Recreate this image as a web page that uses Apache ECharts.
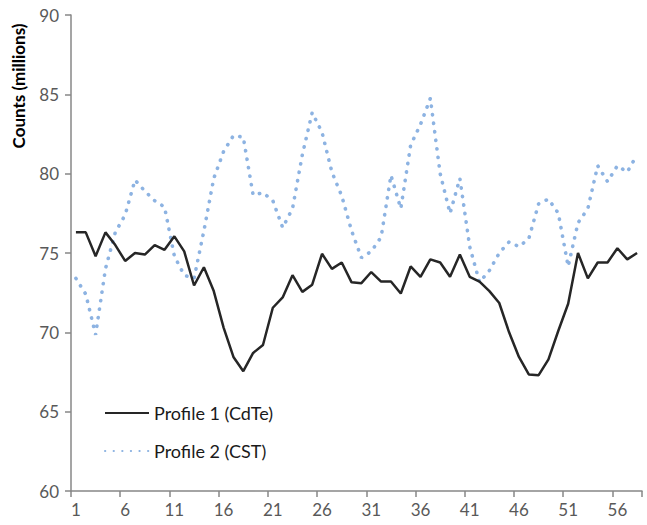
<!DOCTYPE html>
<html>
<head>
<meta charset="utf-8">
<script src="https://cdn.jsdelivr.net/npm/echarts@6/dist/echarts.min.js"></script>
<style>
html,body{margin:0;padding:0;background:#fff;}
#chart{width:647px;height:525px;}
</style>
</head>
<body>
<div id="chart"></div>
<script>
var categories = ['1','2','3','4','5','6','7','8','9','10','11','12','13','14','15','16','17','18','19','20',
  '21','22','23','24','25','26','27','28','29','30','31','32','33','34','35','36','37','38','39','40',
  '41','42','43','44','45','46','47','48','49','50','51','52','53','54','55','56','57','58'];

var profile1 = [76.3,76.3,74.8,76.3,75.5,74.5,75.0,74.9,75.5,75.2,
  76.05,75.1,72.95,74.1,72.6,70.3,68.45,67.55,68.7,69.2,
  71.55,72.2,73.6,72.55,73.0,74.95,74.0,74.4,73.15,73.1,
  73.8,73.2,73.2,72.45,74.15,73.5,74.6,74.4,73.5,74.9,
  73.5,73.2,72.6,71.85,70.0,68.45,67.35,67.3,68.3,70.1,
  71.8,75.0,73.4,74.4,74.4,75.3,74.6,75.0];

var profile2 = [73.4,72.4,69.85,74.0,76.3,77.4,79.6,78.9,78.3,77.9,
  74.8,73.6,73.4,76.4,79.7,81.4,82.4,82.3,78.65,78.8,
  78.3,76.6,77.8,81.2,83.85,82.6,80.1,78.6,76.4,74.7,
  75.1,76.0,79.9,77.8,81.8,83.1,84.75,80.0,77.5,79.7,
  75.4,73.15,73.9,75.0,75.7,75.4,75.9,78.1,78.4,77.5,
  74.15,76.9,77.8,80.5,79.5,80.5,80.1,81.2];

var seriesNames = ['Profile 1 (CdTe)','Profile 2 (CST)'];
var yTitle = 'Counts (millions)';

var chart = echarts.init(document.getElementById('chart'), null, {renderer:'svg'});
var axisColor = '#878787';
var labelColor = '#595959';
var fontFam = 'Lato, "Liberation Sans", sans-serif';

chart.setOption({
  animation:false,
  backgroundColor:'#ffffff',
  grid:{left:71,right:5,top:15,bottom:34,containLabel:false},
  legend:{
    show:true,
    orient:'vertical',
    left:99, top:399,
    itemWidth:44, itemHeight:14, itemGap:20,
    itemStyle:{opacity:0},
    textStyle:{fontFamily:fontFam,fontSize:18,color:'#1a1a1a'},
    data:seriesNames
  },
  xAxis:{
    type:'category',
    data:categories,
    boundaryGap:true,
    axisLine:{lineStyle:{color:axisColor,width:1.5}},
    axisTick:{show:true,interval:4,length:6,lineStyle:{color:axisColor,width:1.5}},
    axisLabel:{interval:4,color:labelColor,fontSize:17,fontFamily:fontFam,margin:10},
    splitLine:{show:false}
  },
  yAxis:{
    type:'value',
    min:60,max:90,interval:5,
    axisLine:{show:true,lineStyle:{color:axisColor,width:1.5}},
    axisTick:{show:true,length:6,lineStyle:{color:axisColor,width:1.5}},
    axisLabel:{color:labelColor,fontSize:17,fontFamily:fontFam,margin:12},
    splitLine:{show:false}
  },
  graphic:[{
    type:'text',
    x:18, y:86,
    rotation:Math.PI/2,
    style:{text:yTitle,fill:'#000',font:'bold 17px '+fontFam,align:'center',verticalAlign:'middle'}
  }],
  series:[{
    name:seriesNames[0],
    type:'line',
    data:profile1,
    showSymbol:false,symbol:'none',
    lineStyle:{color:'#262626',width:2.5},
    itemStyle:{color:'#262626'},
    z:3
  },{
    name:seriesNames[1],
    type:'line',
    data:profile2,
    showSymbol:false,symbol:'none',
    lineStyle:{color:'#8db3e2',width:3.6,type:[0.3,8.3],cap:'round'},
    itemStyle:{color:'#8db3e2'},
    z:2
  }]
});
</script>
</body>
</html>
